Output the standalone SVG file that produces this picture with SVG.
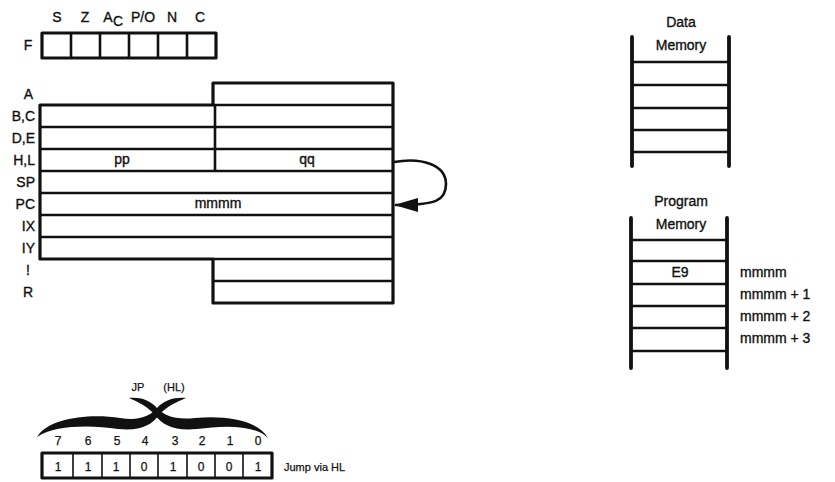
<svg xmlns="http://www.w3.org/2000/svg" width="835" height="482" viewBox="0 0 835 482">
<style>
text{font-family:"Liberation Sans",Arial,sans-serif;fill:#111;font-size:14px;stroke:#111;stroke-width:0.35}
.lbl{text-anchor:end}
.c{text-anchor:middle}
.box{fill:none;stroke:#111;stroke-width:3.2;stroke-linejoin:round}
.row{stroke:#111;stroke-width:2.6}
.rail{stroke:#111;stroke-width:3.8;stroke-linecap:round}
.cell{stroke:#111;stroke-width:1.6}
.small{font-size:12px;stroke-width:0.25}
</style>
<defs>
<marker id="ah" markerWidth="24" markerHeight="16" refX="23" refY="8" orient="auto" markerUnits="userSpaceOnUse">
<path d="M0,1 L24,8 L0,15 Z" fill="#111"/>
</marker>
</defs>
<rect width="835" height="482" fill="#fff"/>

<g id="flags">
<text x="57" y="22" class="c">S</text>
<text x="85" y="22" class="c">Z</text>
<text x="108" y="22" class="c">A</text>
<text x="118" y="26" class="c">C</text>
<text x="143" y="22" class="c">P/O</text>
<text x="172" y="22" class="c">N</text>
<text x="200" y="22" class="c">C</text>
<text x="28" y="50" class="c">F</text>
<rect x="42" y="33" width="174" height="25" class="box"/>
<path d="M71,33V58M100,33V58M129,33V58M158,33V58M187,33V58" class="row" stroke-width="3.2"/>
</g>

<g id="registers">
<text x="33" y="99" class="lbl">A</text>
<text x="35" y="121" class="lbl">B,C</text>
<text x="35" y="143" class="lbl">D,E</text>
<text x="35" y="165" class="lbl">H,L</text>
<text x="35" y="187" class="lbl">SP</text>
<text x="35" y="209" class="lbl">PC</text>
<text x="35" y="231" class="lbl">IX</text>
<text x="35" y="253" class="lbl">IY</text>
<text x="30" y="275" class="lbl">!</text>
<text x="33" y="297" class="lbl">R</text>
<path d="M40,105 H213 V83 H393 V303 H213 V259 H40 Z" class="box"/>
<path d="M213,105H393M40,127H393M40,149H393M40,171H393M40,193H393M40,215H393M40,237H393M213,259H393M213,281H393M215,105V171" class="row"/>
<text x="122" y="164" class="c">pp</text>
<text x="307" y="164" class="c">qq</text>
<text x="218" y="208" class="c">mmmm</text>
</g>

<g id="data-memory">
<text x="681" y="27" class="c">Data</text>
<text x="681" y="50" class="c">Memory</text>
<path d="M632,37V166M729,37V166" class="rail"/>
<path d="M632,62H729M632,85H729M632,108H729M632,130H729M632,152H729" class="row"/>
</g>

<g id="program-memory">
<text x="681" y="206" class="c">Program</text>
<text x="681" y="229" class="c">Memory</text>
<path d="M631,218V368M727,218V368" class="rail"/>
<path d="M631,240H727M631,261H727M631,284H727M631,306H727M631,328H727M631,351H727" class="row"/>
<text x="680" y="277" class="c">E9</text>
<text x="740" y="277">mmmm</text>
<text x="740" y="299">mmmm + 1</text>
<text x="740" y="321">mmmm + 2</text>
<text x="740" y="343">mmmm + 3</text>
</g>

<g id="opcode">
<text x="138" y="391" class="c small" style="font-size:11px">JP</text>
<text x="174" y="391" class="c small" style="font-size:11px">(HL)</text>
<path d="M37,437 C48,418 90,413 120,418 C140,421 150,416 157,408 C164,400 175,397 186,398 C177,402 167,406 160,414 C151,426 140,431 118,429 C90,425 55,425 37,437 Z" fill="#111"/>
<path d="M268,438 C258,420 225,415 195,418 C175,420 165,416 157,408 C150,400 140,397 129,398 C138,402 147,406 154,414 C163,426 175,431 197,429 C225,425 255,425 268,438 Z" fill="#111"/>
<text x="58" y="445" class="c small">7</text>
<text x="88" y="445" class="c small">6</text>
<text x="117" y="445" class="c small">5</text>
<text x="145" y="445" class="c small">4</text>
<text x="175" y="445" class="c small">3</text>
<text x="202" y="445" class="c small">2</text>
<text x="230" y="445" class="c small">1</text>
<text x="258" y="445" class="c small">0</text>
<rect x="42" y="453" width="230" height="25" class="box"/>
<path d="M73,453V478M102,453V478M130,453V478M158,453V478M187,453V478M215,453V478M243,453V478" class="cell"/>
<text x="58" y="471" class="c small">1</text>
<text x="88" y="471" class="c small">1</text>
<text x="116" y="471" class="c small">1</text>
<text x="144" y="471" class="c small">0</text>
<text x="173" y="471" class="c small">1</text>
<text x="201" y="471" class="c small">0</text>
<text x="229" y="471" class="c small">0</text>
<text x="258" y="471" class="c small">1</text>
<text x="284" y="471" class="small" style="font-size:11px">Jump via HL</text>
</g>

<g id="connectors">
<path d="M394,162 C422,157 446,165 446,184 C446,201 436,205 395,205" fill="none" stroke="#111" stroke-width="2.6" marker-end="url(#ah)"/>
</g>
</svg>
